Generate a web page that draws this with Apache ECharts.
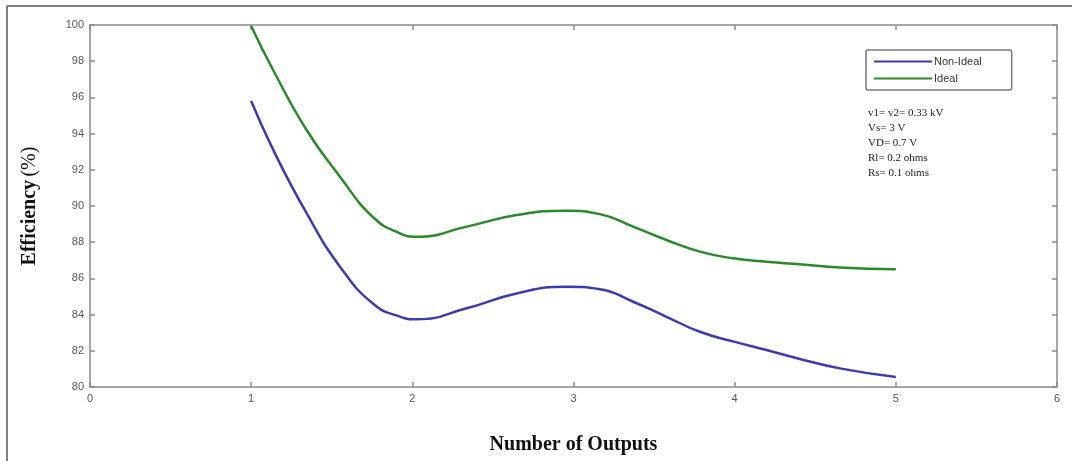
<!DOCTYPE html>
<html><head><meta charset="utf-8">
<script src="https://cdn.jsdelivr.net/npm/echarts@6/dist/echarts.min.js"></script>
<style>html,body{margin:0;padding:0;background:#fff}#c{width:1072px;height:461px}</style>
</head><body><div id="c"></div>
<script>
const xTicks = [0, 1, 2, 3, 4, 5, 6];
const yTicks = [80, 82, 84, 86, 88, 90, 92, 94, 96, 98, 100];
const seriesNames = ['Non-Ideal', 'Ideal'];
const sampleX = [1.0, 1.137, 1.344, 1.551, 1.757, 1.923, 2.027, 2.337, 2.647, 2.957, 3.164, 3.37, 3.577, 3.784, 3.99, 4.198, 4.405, 4.653, 5.0];
const nonIdealY = [95.8, 93.1, 89.6, 86.65, 84.6, 83.89, 83.74, 84.35, 85.17, 85.54, 85.4, 84.71, 83.88, 83.05, 82.52, 82.04, 81.55, 81.03, 80.55];
const idealY = [99.95, 97.5, 94.2, 91.62, 89.38, 88.49, 88.3, 88.86, 89.5, 89.74, 89.55, 88.86, 88.12, 87.48, 87.11, 86.92, 86.78, 86.6, 86.5];
const notes = ['v1= v2= 0.33 kV', 'Vs= 3 V', 'VD= 0.7 V', 'Rl= 0.2 ohms', 'Rs= 0.1 ohms'];

const axisCol = '#8a8a8a';
const pair = (xs, ys) => xs.map((x, i) => [x, ys[i]]);
const chart = echarts.init(document.getElementById('c'));
const line = () => ({show: true, onZero: false, lineStyle: {color: axisCol, width: 1.5}});
const tick = () => ({show: true, inside: true, length: 5, lineStyle: {color: axisCol, width: 1.5}});
const lab = (list) => ({show: true, color: '#555', fontFamily: 'Arial, Liberation Sans', fontSize: 11, margin: 6,
  formatter: v => list.includes(v) ? String(v) : ''});
chart.setOption({
  animation: false,
  grid: {left: 90, top: 25, right: 15, bottom: 74},
  legend: {
    orient: 'vertical', left: 866, top: 50, width: 136,
    padding: [6, 30, 6, 8], itemGap: 6,
    borderColor: '#777', borderWidth: 1.5, borderRadius: 2,
    itemWidth: 58, itemHeight: 10,
    icon: 'path://M0,4L58,4L58,6L0,6Z',
    textStyle: {fontFamily: 'Arial, Liberation Sans', fontSize: 11, color: '#333', padding: [0,0,0,-3]},
    data: seriesNames
  },
  xAxis: [
    {type: 'value', min: 0, max: 6, interval: 1, position: 'bottom',
      axisLine: line(), axisTick: tick(), splitLine: {show: false}, axisLabel: lab(xTicks),
      name: 'Number of Outputs', nameLocation: 'middle', nameGap: 48,
      nameTextStyle: {fontFamily: 'Times New Roman, Liberation Serif', fontWeight: 'bold', fontSize: 20, color: '#111'}},
    {type: 'value', min: 0, max: 6, interval: 1, position: 'top',
      axisLine: line(), axisTick: tick(), splitLine: {show: false}, axisLabel: {show: false}}
  ],
  yAxis: [
    {type: 'value', min: 80, max: 100, interval: 2, position: 'left',
      axisLine: line(), axisTick: tick(), splitLine: {show: false}, axisLabel: lab(yTicks),
      name: '{b|Efficiency} {n|(%)}', nameLocation: 'middle', nameGap: 50,
      nameTextStyle: {rich: {
        b: {fontFamily: 'Times New Roman, Liberation Serif', fontWeight: 'bold', fontSize: 20, color: '#111'},
        n: {fontFamily: 'Times New Roman, Liberation Serif', fontSize: 20, color: '#111'}
      }}},
    {type: 'value', min: 80, max: 100, interval: 2, position: 'right',
      axisLine: line(), axisTick: tick(), splitLine: {show: false}, axisLabel: {show: false}}
  ],
  series: [
    {name: seriesNames[0], type: 'line', data: pair(sampleX, nonIdealY), smooth: 0.5, showSymbol: false,
      lineStyle: {color: '#3c3cb0', width: 2.5}, itemStyle: {color: '#3c3cb0'}},
    {name: seriesNames[1], type: 'line', data: pair(sampleX, idealY), smooth: 0.5, showSymbol: false,
      lineStyle: {color: '#2a8a2a', width: 2.5}, itemStyle: {color: '#2a8a2a'}}
  ],
  graphic: [
    {type: 'line', shape: {x1: 7, y1: 6, x2: 1072, y2: 6}, style: {stroke: '#555', lineWidth: 1.5}},
    {type: 'line', shape: {x1: 7, y1: 6, x2: 7, y2: 461}, style: {stroke: '#555', lineWidth: 1.5}},
    {type: 'text', left: 868, top: 106, style: {
      text: notes.join('\n'), fontFamily: 'Times New Roman, Liberation Serif', fontSize: 11, lineHeight: 15, fill: '#222'}}
  ]
});
</script></body></html>
